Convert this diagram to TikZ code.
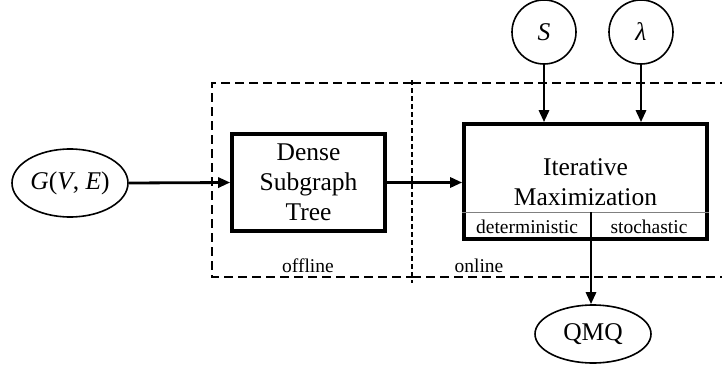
\documentclass[tikz,border=0pt]{standalone}
\usepackage{fontspec}
\setmainfont{Liberation Serif}
\usetikzlibrary{arrows.meta,shapes.geometric}
\begin{document}
\begin{tikzpicture}[x=1pt,y=-1pt,
  big/.style={font=\fontsize{25.5}{30}\selectfont},
  small/.style={font=\fontsize{19.5}{22}\selectfont},
  oval/.style={draw, ellipse, line width=1.6pt, inner sep=0pt},
  circ/.style={draw, circle, line width=1.6pt, inner sep=0pt, minimum size=64pt},
  blockbox/.style={draw, rectangle, line width=3.6pt, inner sep=0pt, align=center},
  conn/.style={line width=2.8pt, -{Triangle[length=12pt,width=10pt]}},
  bigdash/.style={line width=1.6pt, dash pattern=on 9pt off 5pt},
  finedash/.style={line width=1.2pt, dash pattern=on 5pt off 3pt}]
\useasboundingbox (0,0) rectangle (722,369);
% dashed regions
\draw[bigdash] (412,83) -- (212,83) -- (212,277) -- (412,277);
\draw[bigdash] (412,83) -- (722,83);
\draw[bigdash] (412,277) -- (722,277);
\draw[finedash] (412,80) -- (412,283);
\node[small, anchor=base] (offl) at (308,272) {offline};
\node[small, anchor=base] (onl) at (479,272) {online};
% nodes
\node[oval, big, minimum width=116pt, minimum height=68pt] (g) at (70,183) {\textit{G}(\textit{V}, \textit{E})};
\node[blockbox, big, minimum width=153pt, minimum height=97pt] (dst) at (308.5,182.5) {Dense\\Subgraph\\Tree};
\node[blockbox, minimum width=243pt, minimum height=115pt] (it) at (585.5,181.5) {};
\node[big, align=center] (itlab) at (585.5,182) {Iterative\\Maximization};
\node[circ, big] (s) at (544,32) {\textit{S}};
\node[circ, big] (lam) at (641,32) {\textit{λ}};
\node[oval, big, minimum width=116pt, minimum height=58pt] (qmq) at (593,334) {QMQ};
\coordinate (divtop) at (591,212);
\draw[gray, line width=1pt] (it.west |- divtop) -- (it.east |- divtop);
\draw[line width=1.2pt] (divtop) -- (divtop |- it.south);
\node[small, anchor=base] (det) at (527,233) {deterministic};
\node[small, anchor=base] (sto) at (649,233) {stochastic};
% connectors
\draw[conn] (g.east) -- (dst.west);
\draw[conn] (dst.east) -- (it.west |- dst.east);
\draw[conn] (s.south) -- (s.south |- it.north);
\draw[conn] (lam.south) -- (lam.south |- it.north);
\draw[conn] (divtop |- it.south) -- (divtop |- qmq.north);
\end{tikzpicture}
\end{document}
